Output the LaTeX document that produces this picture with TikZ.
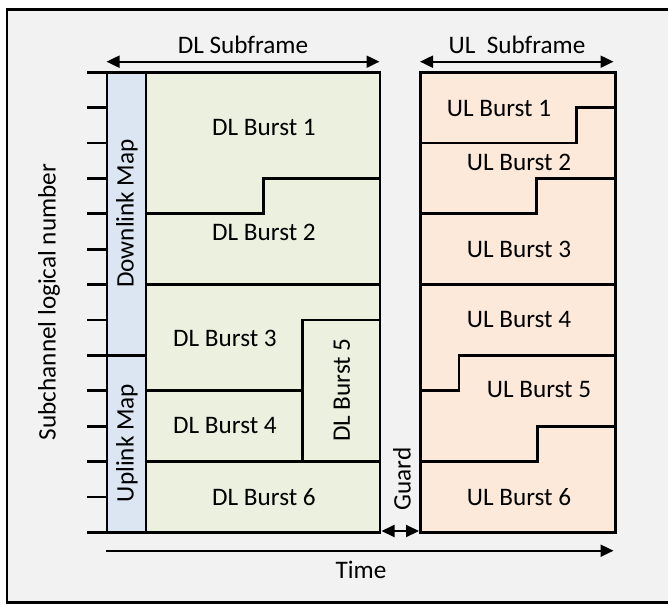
\documentclass[tikz,border=0pt]{standalone}
\usepackage{fontspec}
\setmainfont{Carlito}
\usetikzlibrary{positioning,arrows.meta}

\definecolor{bggray}{HTML}{F2F2F2}
\definecolor{mapblue}{HTML}{DCE6F2}
\definecolor{dlgreen}{HTML}{EBF1DE}
\definecolor{ulpeach}{HTML}{FDE9D9}

\begin{document}
\begin{tikzpicture}[x=0.5pt, y=-0.5pt, >={Triangle[length=6.5pt, width=6pt]}, every node/.style={font=\fontsize{12.6}{15}\selectfont, inner sep=0pt}, frame/.style={draw=black, line width=1.3pt}, cell/.style={line width=1.4pt}, span/.style={<->, line width=1pt}, vtext/.style={rotate=90}]

\useasboundingbox (0,0) rectangle (668,604);
\fill[white] (0,0) rectangle (668,604);
\fill[bggray] (7,9.5) rectangle (668,602.5);
\draw[frame] (668,9.5) -- (7,9.5) -- (7,602.5) -- (668,602.5);

% subframes
\fill[mapblue] (107,72.3) rectangle (146,532.3);
\fill[dlgreen] (146,72.3) rectangle (380,532.3);
\fill[ulpeach] (420.5,72.3) rectangle (615.5,532.3);

% ticks
\foreach \k in {0,...,13}
  \draw[cell] (87,{72.3+35.385*\k}) -- (107,{72.3+35.385*\k});

% DL subframe
\draw[cell] (107,72.3) rectangle (380,532.3);
\draw[cell] (146,72.3) -- (146,532.3);
\draw[cell] (87,355.3) -- (146,355.3);
\draw[cell] (146,213.8) -- (263.3,213.8) -- (263.3,178.4) -- (380,178.4);
\draw[cell] (146,284.6) -- (380,284.6);
\draw[cell] (380,320) -- (302.3,320) -- (302.3,461.5);
\draw[cell] (146,390.7) -- (302.3,390.7);
\draw[cell] (146,461.5) -- (380,461.5);

% UL subframe
\draw[cell] (420.5,72.3) rectangle (615.5,532.3);
\draw[cell] (420.5,143.1) -- (576.7,143.1) -- (576.7,107.7) -- (615.5,107.7);
\draw[cell] (420.5,213.8) -- (536.7,213.8) -- (536.7,178.4) -- (615.5,178.4);
\draw[cell] (420.5,284.6) -- (615.5,284.6);
\draw[cell] (420.5,390.7) -- (459,390.7) -- (459,355.3) -- (615.5,355.3);
\draw[cell] (420.5,461.5) -- (537.7,461.5) -- (537.7,426.1) -- (615.5,426.1);

% bursts
\node (dlmap) [vtext] at (127,213.5) {Downlink Map};
\node (ulmap) [vtext] at (127,443) {Uplink Map};
\node (dl1) at (264,127) {DL Burst 1};
\node (dl2) at (264,232) {DL Burst 2};
\node (dl3) at (225,338) {DL Burst 3};
\node (dl4) at (225,425) {DL Burst 4};
\node (dl5) [vtext] at (342,390) {DL Burst 5};
\node (dl6) at (264,497) {DL Burst 6};
\node (ul1) at (499,108) {UL Burst 1};
\node (ul2) at (519,162) {UL Burst 2};
\node (ul3) at (519,249) {UL Burst 3};
\node (ul4) at (519,320) {UL Burst 4};
\node (ul5) at (539,390) {UL Burst 5};
\node (ul6) at (519,497) {UL Burst 6};

% spans
\coordinate (dlL) at (106.5,61.7);
\coordinate (dlR) at (379.5,61.7);
\coordinate (ulL) at (420,61.7);
\coordinate (ulR) at (613.5,61.7);
\coordinate (gL) at (381.5,531);
\coordinate (gR) at (419,531);
\coordinate (t0) at (106,550.7);
\coordinate (t1) at (613.5,550.7);

\draw[span] (dlL) -- (dlR);
\draw[span] (ulL) -- (ulR);
\draw[span] (gL) -- (gR);
\draw[->, line width=1pt] (t0) -- (t1);

\node (dlsub) [anchor=base] at (243,53.3) {DL Subframe};
\node (ulsub) [anchor=base] at (517,53.3) {UL\ \ Subframe};
\node (guard) [vtext] at (402,479) {Guard};
\node (time) [anchor=base] at (361,578) {Time};
\node (axis) [vtext] at (49,302) {Subchannel logical number};
\end{tikzpicture}
\end{document}
